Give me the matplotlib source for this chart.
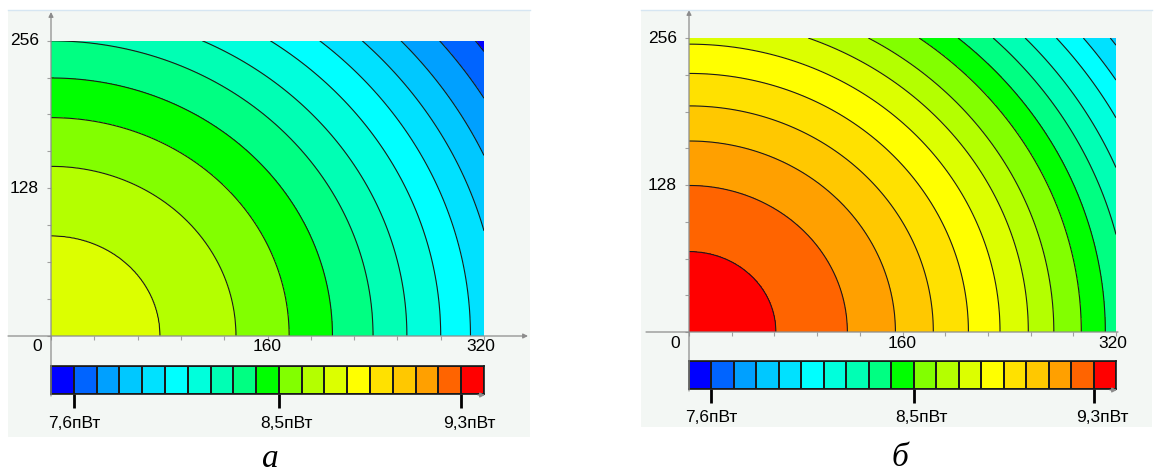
import numpy as np
import matplotlib
matplotlib.use("Agg")
import matplotlib.pyplot as plt
from matplotlib.colors import ListedColormap, BoundaryNorm
from matplotlib.patches import Rectangle, FancyArrowPatch

plt.rcParams['font.family'] = ['Liberation Sans', 'DejaVu Sans']

# ---- данные ----
# границы шкалы (пВт) и цвета 19 ячеек
bounds = np.linspace(7.5, 9.4, 20)
box_colors = ['#0000FF', '#0064FF', '#00A0FF', '#00C8FF', '#00E1FF', '#00FFFF',
              '#00FFDC', '#00FFB4', '#00FF82', '#00FF00', '#82FF00', '#B4FF00',
              '#DCFF00', '#FFFF00', '#FFE100', '#FFC800', '#FFA000', '#FF6400',
              '#FF0000']
cbar_ticks = [7.6, 8.5, 9.3]
cbar_labels = ['7,6пВт', '8,5пВт', '9,3пВт']

# радиусы изолиний (в единицах оси x) и их уровни
levels_a = [8.75, 8.7, 8.6, 8.5, 8.4, 8.3, 8.2, 8.1, 8.0, 7.9, 7.8, 7.7, 7.6, 7.57]
radius_a = [0, 80.6, 136.7, 176, 208, 238, 263, 288, 310, 331, 351.5, 373, 393.7, 400]

levels_b = [9.35, 9.3, 9.2, 9.1, 9.0, 8.9, 8.8, 8.7, 8.6, 8.5, 8.4, 8.3, 8.2, 8.1, 8.0, 7.9, 7.88]
radius_b = [0, 65.2, 118.7, 154.7, 183.1, 209.4, 233.1, 254.3, 273.4, 294, 312, 329.6,
            346.6, 364, 379.5, 395.4, 399]

y_squash = 0.93   # изолинии слегка вытянуты по вертикали
x_max, y_max = 320, 256

W, H = 1156, 475
fig = plt.figure(figsize=(W / 100, H / 100), dpi=100)
fig.patch.set_facecolor('white')


def rect(x0, y0, x1, y1):
    # пиксели (от верхнего левого угла) -> доли фигуры
    return [x0 / W, 1 - y1 / H, (x1 - x0) / W, (y1 - y0) / H]


def fx(x):
    return x / W


def fy(y):
    return 1 - y / H


def fig_line(x0, y0, x1, y1, arrow=False):
    p = FancyArrowPatch((fx(x0), fy(y0)), (fx(x1), fy(y1)),
                        transform=fig.transFigure,
                        arrowstyle='-|>' if arrow else '-',
                        mutation_scale=7, color='#8C8C8C', lw=0.9,
                        shrinkA=0, shrinkB=0)
    fig.add_artist(p)


cmap = ListedColormap(box_colors)
norm = BoundaryNorm(bounds, cmap.N)
xs = np.linspace(0, x_max, 481)
ys = np.linspace(0, y_max, 385)
X, Y = np.meshgrid(xs, ys)
R = np.hypot(X, Y * y_squash)

panels = [
    dict(levels=levels_a, radius=radius_a, bg=(8, 10, 530, 437),
         plot=(51, 40.7, 484, 335.7), cbar=(51, 366, 484, 394),
         yaxis=(51, 396, 51, 12), xaxis=(8, 336, 528, 336, True),
         lab_dx=[0, 8, 8], letter='a', letter_pos=(270, 467)),
    dict(levels=levels_b, radius=radius_b, bg=(641, 10, 1152, 427),
         plot=(689, 38, 1116, 332), cbar=(689, 361, 1116, 389),
         yaxis=(689, 391, 689, 10), xaxis=(646, 332, 1118, 332, False),
         lab_dx=[0, 8, 9], letter='б', letter_pos=(900, 466)),
]

for p in panels:
    # фон панели
    bx0, by0, bx1, by1 = p['bg']
    fig.add_artist(Rectangle((fx(bx0), fy(by1)), fx(bx1 - bx0), (by1 - by0) / H,
                             transform=fig.transFigure, facecolor='#F3F7F4',
                             edgecolor='none', zorder=0))
    fig.add_artist(plt.Line2D([fx(bx0), fx(bx1)], [fy(by0), fy(by0)],
                              transform=fig.transFigure, color='#D6E6F2', lw=1))

    # поле
    ax = fig.add_axes(rect(*p['plot']))
    V = np.interp(R, p['radius'], p['levels'])
    ax.contourf(X, Y, V, levels=bounds, cmap=cmap, norm=norm)
    ax.contour(X, Y, V, levels=bounds[1:-1], colors='#1A1A1A', linewidths=0.8)
    ax.set_xlim(0, x_max)
    ax.set_ylim(0, y_max)
    for s in ax.spines.values():
        s.set_visible(False)
    ax.set_xticks(np.arange(0, x_max + 1, 32))
    ax.set_yticks(np.arange(0, y_max + 1, 32))
    ax.tick_params(length=3, width=0.8, color='#A0A0A0',
                   labelleft=False, labelbottom=False)
    ax.patch.set_alpha(0)

    pt = 0.72  # пиксели -> пункты
    for val in (256, 128):
        ax.annotate(str(val), (0, val), xytext=(-12 * pt, 0), textcoords='offset points',
                    ha='right', va='center', fontsize=12.5, annotation_clip=False)
    ax.annotate('0', (0, 0), xytext=(-9 * pt, -11 * pt), textcoords='offset points',
                ha='right', va='center', fontsize=12.5, annotation_clip=False)
    for val, dx in ((160, 0), (320, -3)):
        ax.annotate(str(val), (val, 0), xytext=(dx * pt, -11 * pt), textcoords='offset points',
                    ha='center', va='center', fontsize=12.5, annotation_clip=False)

    # оси со стрелками
    fig_line(*p['yaxis'], arrow=True)
    x0, y0, x1, y1, arr = p['xaxis']
    fig_line(x0, y0, x1, y1, arrow=arr)

    # шкала
    cax = fig.add_axes(rect(*p['cbar']))
    centers = (bounds[:-1] + bounds[1:]) / 2
    cax.pcolormesh(bounds, [0, 1], centers[np.newaxis, :], cmap=cmap, norm=norm,
                   edgecolors='#1A1A1A', linewidth=1.2)
    cax.set_xlim(bounds[0], bounds[-1])
    cax.set_ylim(0, 1)
    for s in cax.spines.values():
        s.set_color('#1A1A1A')
        s.set_linewidth(1.2)
    cax.set_yticks([])
    cax.set_xticks(cbar_ticks)
    cax.tick_params(axis='x', length=10, width=2, color='black', labelbottom=False)
    for t, lab, dx in zip(cbar_ticks, cbar_labels, p['lab_dx']):
        cax.annotate(lab, (t, 0), xycoords=('data', 'axes fraction'),
                     xytext=(dx * pt, -29 * pt), textcoords='offset points',
                     ha='center', va='center', fontsize=12.5, annotation_clip=False)
    cx0, cy0, cx1, cy1 = p['cbar']
    fig_line(cx1 - 6, cy1 + 1, cx1 + 1, cy1 + 1, arrow=True)

    lx, ly = p['letter_pos']
    fig.text(fx(lx), fy(ly), p['letter'], ha='center', va='baseline',
             family=['Liberation Serif', 'DejaVu Serif'], style='italic', fontsize=24)

fig.savefig('out.png', dpi=100, facecolor='white')
plt.close(fig)
